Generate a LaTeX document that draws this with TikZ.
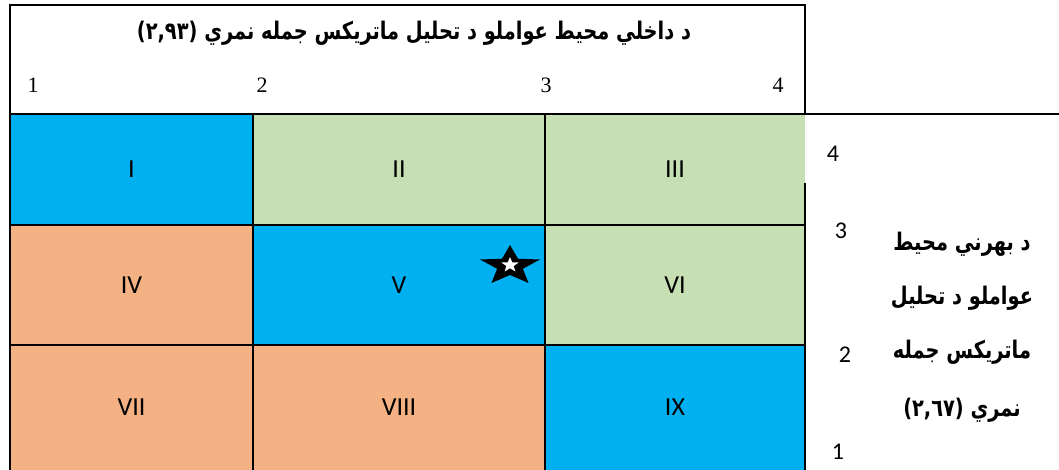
\documentclass[tikz,border=0pt]{standalone}
\usepackage{fontspec}
\setmainfont{Liberation Serif}
\newfontfamily\calfont{Carlito}
\newfontfamily\arabicfont[Script=Arabic]{DejaVu Sans}
\TeXXeTstate=1
\usetikzlibrary{positioning}
\definecolor{cellblue}{HTML}{00B0F0}
\definecolor{cellgreen}{HTML}{C6E0B4}
\definecolor{cellorange}{HTML}{F4B183}

\begin{document}
\begin{tikzpicture}[x=1pt, y=1pt,
    gridline/.style={line width=2.4pt, black},
    roman/.style={font=\calfont\fontsize{26}{28}\selectfont},
    axisnum/.style={font=\fontsize{22}{24}\selectfont, inner sep=0pt},
    sidenum/.style={font=\calfont\fontsize{24}{26}\selectfont, inner sep=0pt},
    arlabel/.style={font=\arabicfont\bfseries\fontsize{19.4}{22}\selectfont,
      inner sep=0pt, yscale=1.25, transform shape}]
    \useasboundingbox (0,0) rectangle (1059,-470);

    % --- 九格矩阵 ---
    \foreach \xa/\xb/\ya/\yb/\col/\lab/\nm in {
        10/253/114/225/cellblue/I/c1, 253/545/114/225/cellgreen/II/c2,
        545/805/114/225/cellgreen/III/c3, 10/253/225/345/cellorange/IV/c4,
        253/545/225/345/cellblue/V/c5, 545/805/225/345/cellgreen/VI/c6,
        10/253/345/470/cellorange/VII/c7, 253/545/345/470/cellorange/VIII/c8,
        545/805/345/470/cellblue/IX/c9}{
      \fill[\col] (\xa,-\ya) rectangle (\xb,-\yb);
      \node[roman] (\nm) at ({(\xa+\xb)/2},{-(\ya+\yb)/2}) {\lab};
    }

    % --- 格线 ---
    \draw[gridline] (10,-5) rectangle (805,-114);
    \draw[gridline] (805,-114) -- (1059,-114);
    \draw[gridline] (10,-114) -- (10,-470);
    \draw[gridline] (253,-114) -- (253,-470);
    \draw[gridline] (545,-114) -- (545,-470);
    \draw[gridline] (805,-183) -- (805,-470);
    \draw[gridline] (10,-225) -- (805,-225);
    \draw[gridline] (10,-345) -- (805,-345);

    % --- 上方标题与刻度 ---
    \node[arlabel] (toptitle) at (414,-33) {\beginR د داخلي محيط عواملو د تحليل ماتريکس جمله نمري \beginL(٢,٩٣)\endL\endR};
    \node[axisnum] (top1) at (33,-85) {1};
    \node[axisnum] (top2) at (262,-85) {2};
    \node[axisnum] (top3) at (546,-85) {3};
    \node[axisnum] (top4) at (778,-85) {4};

    % --- 右侧标题与刻度 ---
    \node[sidenum] (side4) at (833,-154) {4};
    \node[sidenum] (side3) at (841,-231) {3};
    \node[sidenum] (side2) at (845,-355) {2};
    \node[sidenum] (side1) at (838,-452) {1};
    \node[arlabel] (side1l) at (962,-244) {\beginR د بهرني محيط\endR};
    \node[arlabel] (side2l) at (962,-298) {\beginR عواملو د تحليل\endR};
    \node[arlabel] (side3l) at (962,-352) {\beginR ماتريکس جمله\endR};
    \node[arlabel] (side4l) at (962,-410) {\beginR نمري \beginL(٢,٦٧)\endL\endR};

    % --- 星标 ---
    \def\staro{21}
    \def\stari{9}
    \begin{scope}[shift={(510,-266)}, xscale=1.5]
      \fill[black] (90:\staro) \foreach \k in {1,...,9}{
        -- ({90+36*\k}:{ifthenelse(isodd(\k),\stari,\staro)}) } -- cycle;
    \end{scope}
    \begin{scope}[shift={(510,-265)}, xscale=1.15]
      \fill[white] (90:8) \foreach \k in {1,...,9}{
        -- ({90+36*\k}:{ifthenelse(isodd(\k),3.3,8)}) } -- cycle;
    \end{scope}
\end{tikzpicture}
\end{document}
